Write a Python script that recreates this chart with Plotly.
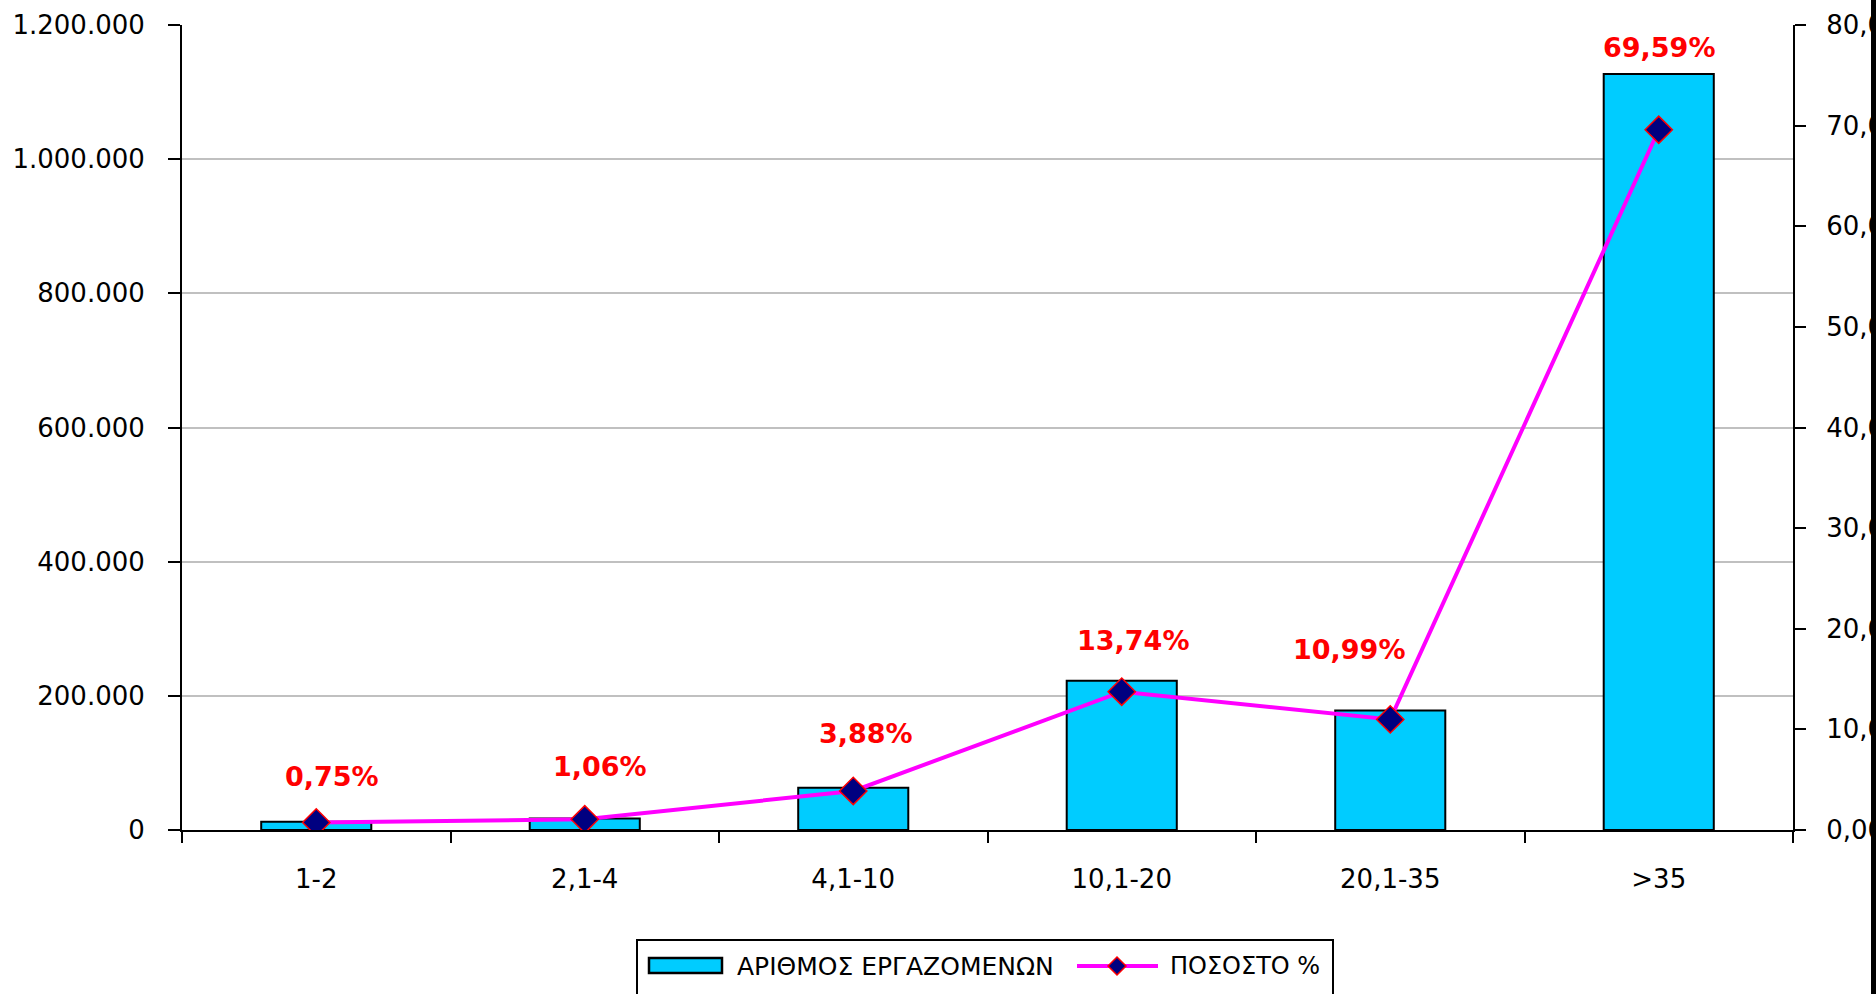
import plotly.graph_objects as go

# Employment by size class: bars on the left axis, share (%) on the right axis
categories = ["1-2", "2,1-4", "4,1-10", "10,1-20", "20,1-35", ">35"]
employees = [12150, 17170, 62840, 222520, 177980, 1127000]
percent = [0.75, 1.06, 3.88, 13.74, 10.99, 69.59]

left_ticks = [0, 200000, 400000, 600000, 800000, 1000000, 1200000]
left_tick_text = ["0", "200.000", "400.000", "600.000", "800.000", "1.000.000", "1.200.000"]
right_ticks = [0, 10, 20, 30, 40, 50, 60, 70, 80]
right_tick_text = ["0,00", "10,00", "20,00", "30,00", "40,00", "50,00", "60,00", "70,00", "80,00"]

bar_name = "ΑΡΙΘΜΟΣ ΕΡΓΑΖΟΜΕΝΩΝ"
line_name = "ΠΟΣΟΣΤΟ %"

# pixel offsets of the percentage labels relative to their markers
label_dx = [16, 15, 13, 11, -41, 0]
label_dy = [46, 53, 57, 51, 70, 82]

W, H = 1876, 994
ML, MR, MT, MB = 182, 83, 25, 164
PW, PH = W - ML - MR, H - MT - MB

FONT = "DejaVu Sans"
BAR_COLOR = "#00CCFF"
LINE_COLOR = "#FF00FF"


def px_x(px):
    return (px - ML) / PW


def px_y(py):
    return (H - MB - py) / PH


def fmt_pct(v):
    return f"{v:.2f}".replace(".", ",") + "%"


fig = go.Figure()

fig.add_trace(go.Bar(
    x=categories, y=employees, name=bar_name, width=0.41,
    marker=dict(color=BAR_COLOR, line=dict(color="black", width=2)),
    yaxis="y",
))

fig.add_trace(go.Scatter(
    x=categories, y=percent, name=line_name, mode="lines+markers",
    line=dict(color=LINE_COLOR, width=4),
    marker=dict(symbol="diamond", size=21, color="#000080",
                line=dict(color="#FF0000", width=1.5)),
    yaxis="y2",
))

annotations = []
for cat, p, dx, dy in zip(categories, percent, label_dx, label_dy):
    annotations.append(dict(
        x=cat, y=p, xref="x", yref="y2", text=f"<b>{fmt_pct(p)}</b>",
        showarrow=False, xshift=dx, yshift=dy,
        font=dict(family=FONT, size=27, color="#FF0000"),
    ))

# custom legend box
leg_y = 966
annotations.append(dict(
    x=px_x(735), y=px_y(leg_y), xref="paper", yref="paper", text=bar_name,
    xanchor="left", yanchor="middle", showarrow=False,
    font=dict(family=FONT, size=25, color="black"),
))
annotations.append(dict(
    x=px_x(1168), y=px_y(leg_y), xref="paper", yref="paper", text=line_name,
    xanchor="left", yanchor="middle", showarrow=False,
    font=dict(family=FONT, size=24, color="black"),
))

dm = 9
diamond = (f"M {px_x(1117 - dm)},{px_y(leg_y)} L {px_x(1117)},{px_y(leg_y - dm)} "
           f"L {px_x(1117 + dm)},{px_y(leg_y)} L {px_x(1117)},{px_y(leg_y + dm)} Z")

shapes = [
    dict(type="rect", xref="paper", yref="paper",
         x0=px_x(637), x1=px_x(1333), y0=px_y(940), y1=px_y(1010),
         line=dict(color="black", width=2), fillcolor="white", layer="above"),
    dict(type="rect", xref="paper", yref="paper",
         x0=px_x(649), x1=px_x(722), y0=px_y(958), y1=px_y(973),
         line=dict(color="black", width=2.5), fillcolor=BAR_COLOR, layer="above"),
    dict(type="line", xref="paper", yref="paper",
         x0=px_x(1077), x1=px_x(1158), y0=px_y(leg_y), y1=px_y(leg_y),
         line=dict(color=LINE_COLOR, width=4), layer="above"),
    dict(type="path", xref="paper", yref="paper", path=diamond,
         fillcolor="#000080", line=dict(color="#FF0000", width=1.5), layer="above"),
    # dark edge along the right border
    dict(type="rect", xref="paper", yref="paper",
         x0=px_x(1871), x1=px_x(1900), y0=px_y(-20), y1=px_y(1020),
         fillcolor="black", line=dict(width=0), layer="above"),
]

tick_font = dict(family=FONT, size=26, color="black")

fig.update_layout(
    width=W, height=H,
    margin=dict(l=ML, r=MR, t=MT, b=MB, autoexpand=False),
    paper_bgcolor="white", plot_bgcolor="white",
    showlegend=False,
    xaxis=dict(
        type="category", range=[-0.5, 5.5], showline=True, linecolor="black",
        linewidth=2, ticks="outside", tickson="boundaries", ticklen=11,
        tickwidth=2, tickcolor="black", showgrid=False, tickfont=tick_font,
        ticklabelstandoff=25, anchor="y", automargin=False,
    ),
    yaxis=dict(
        range=[0, 1200000], tickvals=left_ticks, ticktext=left_tick_text,
        showline=True, linecolor="black", linewidth=2, ticks="outside",
        ticklen=12, tickwidth=2, tickcolor="black", showgrid=True,
        gridcolor="#C0C0C0", gridwidth=2, zeroline=False, tickfont=tick_font,
        ticklabelstandoff=18, anchor="x", automargin=False,
    ),
    yaxis2=dict(
        range=[0, 80], tickvals=right_ticks, ticktext=right_tick_text,
        overlaying="y", side="right", anchor="x", showline=True,
        linecolor="black", linewidth=2, ticks="outside", ticklen=11,
        tickwidth=2, tickcolor="black", showgrid=False, zeroline=False,
        tickfont=tick_font, ticklabelstandoff=15, automargin=False,
    ),
    yaxis3=dict(
        range=[0, 1200000], tickvals=left_ticks, overlaying="y", side="left",
        anchor="x", showline=False, ticks="inside", ticklen=11, tickwidth=2,
        tickcolor="black", showticklabels=False, showgrid=False, zeroline=False,
        automargin=False,
    ),
    yaxis4=dict(
        range=[0, 80], tickvals=right_ticks, overlaying="y", side="right",
        anchor="x", showline=False, ticks="inside", ticklen=11, tickwidth=2,
        tickcolor="black", showticklabels=False, showgrid=False, zeroline=False,
        automargin=False,
    ),
    annotations=annotations,
    shapes=shapes,
)

fig.write_html("out.html")
